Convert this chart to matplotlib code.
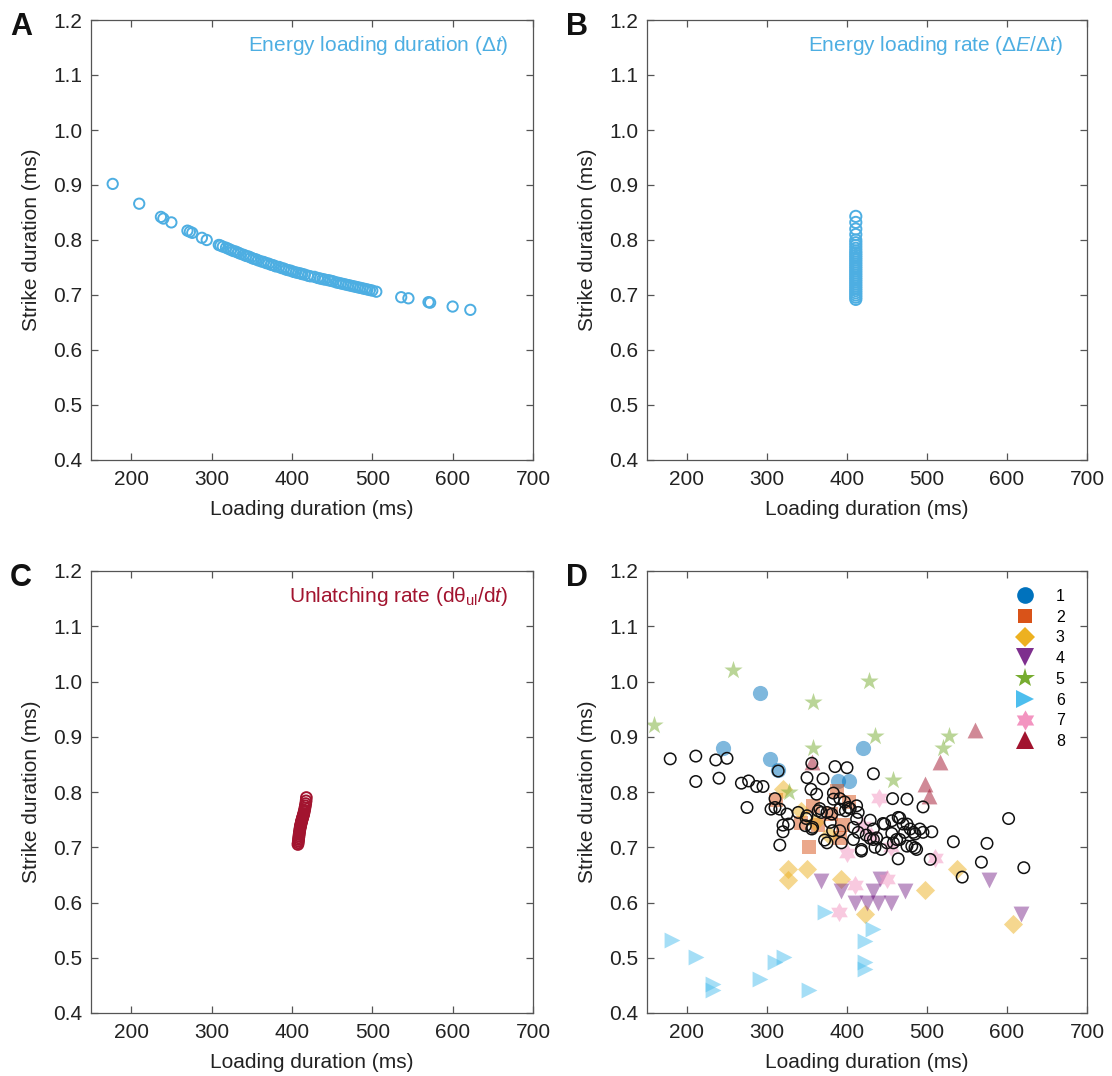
import numpy as np
import matplotlib
matplotlib.use("Agg")
import matplotlib.pyplot as plt

plt.rcParams['font.family'] = ['Liberation Sans', 'DejaVu Sans']
plt.rcParams['mathtext.fontset'] = 'custom'
plt.rcParams['mathtext.rm'] = 'Liberation Sans'
plt.rcParams['mathtext.it'] = 'Liberation Sans:italic'
plt.rcParams['mathtext.bf'] = 'Liberation Sans:bold'

# A: model strike duration vs loading duration, varying loading duration
a_load = [177, 210, 237, 240, 250, 270, 273, 276, 288, 294, 309, 311, 314, 318, 321,
          324, 327, 330, 333, 336, 340, 343, 346, 349, 352, 355, 358, 362, 365, 368,
          371, 374, 377, 380, 384, 387, 390, 393, 396, 399, 402, 405, 408, 411, 413,
          416, 420, 423, 428, 432, 435, 438, 441, 445, 448, 451, 455, 458, 461, 464,
          467, 470, 473, 476, 479, 482, 485, 488, 491, 494, 497, 500, 505, 536, 545,
          570, 572, 600, 622]
a_strike = [0.902, 0.866, 0.842, 0.839, 0.832, 0.817, 0.815, 0.813, 0.804, 0.800, 0.791,
            0.790, 0.788, 0.786, 0.784, 0.782, 0.780, 0.779, 0.777, 0.775, 0.773, 0.771,
            0.770, 0.768, 0.766, 0.765, 0.763, 0.761, 0.760, 0.758, 0.757, 0.755, 0.754,
            0.752, 0.751, 0.749, 0.748, 0.746, 0.745, 0.744, 0.742, 0.741, 0.740, 0.739,
            0.738, 0.737, 0.735, 0.734, 0.733, 0.731, 0.730, 0.729, 0.728, 0.727, 0.726,
            0.725, 0.723, 0.722, 0.721, 0.720, 0.719, 0.718, 0.717, 0.716, 0.715, 0.714,
            0.713, 0.712, 0.711, 0.710, 0.709, 0.708, 0.706, 0.696, 0.694, 0.687, 0.686,
            0.679, 0.673]

# B: loading rate varied, loading duration fixed
b_strike = [0.843, 0.832, 0.820, 0.810, 0.800, 0.795, 0.790, 0.785, 0.780, 0.776, 0.772,
            0.768, 0.764, 0.760, 0.756, 0.752, 0.748, 0.744, 0.740, 0.736, 0.732, 0.728,
            0.724, 0.720, 0.716, 0.712, 0.708, 0.704, 0.700, 0.696, 0.692]
b_load = [411] * len(b_strike)

# C: unlatching rate varied
c_load = [407.5, 407.8, 408.0, 408.3, 408.5, 408.8, 409.0, 409.3, 409.6, 409.9, 410.2,
          410.5, 410.8, 411.1, 411.4, 411.7, 412.0, 412.4, 412.8, 413.2, 413.6, 414.0,
          414.4, 414.8, 415.2, 415.7, 416.2, 416.7, 417.2, 417.7, 418.0]
c_strike = [0.705, 0.708, 0.711, 0.714, 0.717, 0.720, 0.723, 0.726, 0.729, 0.732, 0.735,
            0.737, 0.739, 0.741, 0.743, 0.745, 0.747, 0.749, 0.751, 0.753, 0.755, 0.757,
            0.759, 0.761, 0.764, 0.767, 0.771, 0.775, 0.779, 0.784, 0.790]

# D: model runs (open circles)
d_load = [179, 211, 236, 250, 211, 240, 268, 277, 287, 295, 314, 275, 350, 370, 355, 362,
          385, 400, 433, 356, 383, 310, 383, 391, 457, 475, 495, 602,
          305, 310, 316, 325, 320, 320, 316, 327, 339, 350, 356, 348, 357, 364, 368, 375,
          379, 381, 375, 391, 393, 391, 398, 402, 412, 404, 408, 414, 408, 418, 412, 414,
          429, 433, 429, 435, 443, 433, 437, 445, 456, 464, 466, 475, 479, 485, 483, 495,
          506, 491, 472, 456, 462, 475, 487, 485, 458, 481, 464, 504, 533, 575, 568, 544,
          621, 450, 466, 382, 366, 418, 447, 470, 349, 372, 397, 424]
d_strike = [0.860, 0.865, 0.858, 0.861, 0.819, 0.825, 0.816, 0.820, 0.810, 0.810, 0.838,
            0.772, 0.826, 0.824, 0.805, 0.796, 0.846, 0.844, 0.833, 0.852, 0.798, 0.788,
            0.787, 0.788, 0.788, 0.787, 0.773, 0.752,
            0.769, 0.772, 0.769, 0.760, 0.740, 0.728, 0.704, 0.742, 0.763, 0.757, 0.733,
            0.739, 0.736, 0.766, 0.763, 0.763, 0.745, 0.760, 0.708, 0.730, 0.708, 0.769,
            0.766, 0.772, 0.775, 0.770, 0.736, 0.727, 0.714, 0.693, 0.751, 0.763, 0.749,
            0.714, 0.716, 0.700, 0.696, 0.733, 0.717, 0.743, 0.748, 0.754, 0.753, 0.742,
            0.733, 0.724, 0.727, 0.727, 0.728, 0.733, 0.727, 0.725, 0.714, 0.702, 0.696,
            0.699, 0.708, 0.702, 0.679, 0.678, 0.710, 0.707, 0.673, 0.646, 0.663, 0.708,
            0.714, 0.730, 0.770, 0.696, 0.742, 0.742, 0.752, 0.713, 0.782, 0.722]

# D: measured strikes per individual
ind_load = {
    1: [245, 291, 304, 314, 389, 402, 420],
    2: [311, 343, 352, 358, 364, 387, 391, 395, 403, 380],
    3: [326, 326, 350, 392, 497, 537, 422, 607, 320, 343, 360, 378],
    4: [367, 393, 410, 425, 433, 439, 441, 455, 472, 577, 617],
    5: [159, 258, 357, 428, 357, 435, 458, 520, 527, 328],
    6: [181, 211, 232, 232, 291, 310, 321, 352, 372, 433, 422, 422, 422],
    7: [400, 420, 440, 410, 450, 390, 510, 455, 430],
    8: [560, 516, 498, 503, 356],
}
ind_strike = {
    1: [0.88, 0.98, 0.86, 0.84, 0.82, 0.82, 0.88],
    2: [0.785, 0.743, 0.701, 0.775, 0.740, 0.802, 0.717, 0.740, 0.781, 0.760],
    3: [0.661, 0.640, 0.661, 0.642, 0.623, 0.661, 0.580, 0.561, 0.805, 0.765, 0.745, 0.722],
    4: [0.639, 0.621, 0.600, 0.599, 0.621, 0.600, 0.642, 0.600, 0.621, 0.640, 0.580],
    5: [0.921, 1.021, 0.962, 1.001, 0.880, 0.901, 0.822, 0.880, 0.901, 0.800],
    6: [0.532, 0.502, 0.453, 0.442, 0.461, 0.492, 0.502, 0.442, 0.582, 0.552, 0.531,
        0.493, 0.479],
    7: [0.690, 0.738, 0.790, 0.631, 0.642, 0.582, 0.681, 0.700, 0.720],
    8: [0.912, 0.854, 0.814, 0.793, 0.854],
}

# six-pointed star (hexagram) marker outline
ang = np.pi / 2 + np.arange(12) * np.pi / 6
rad = np.where(np.arange(12) % 2 == 0, 1.0, 1 / np.sqrt(3))
hexagram = np.column_stack([rad * np.cos(ang), rad * np.sin(ang)])

ind_color = {1: '#0072BD', 2: '#D95319', 3: '#EDB120', 4: '#7E2F8E',
             5: '#77AC30', 6: '#4DBEEE', 7: '#F394C0', 8: '#A2142F'}
ind_marker = {1: 'o', 2: 's', 3: 'D', 4: 'v', 5: '*', 6: '>', 7: hexagram, 8: '^'}
ind_size = {1: 120, 2: 95, 3: 95, 4: 130, 5: 190, 6: 130, 7: 190, 8: 130}
leg_size = {1: 12, 2: 10, 3: 10, 4: 12.5, 5: 15, 6: 12.5, 7: 14.5, 8: 12.5}

xticks = [200, 300, 400, 500, 600, 700]
yticks = [0.4, 0.5, 0.6, 0.7, 0.8, 0.9, 1.0, 1.1, 1.2]
blue = '#4DAEE2'
red = '#A2142F'
axis_grey = '#555555'
text_col = '#222222'
fs = 15

fig = plt.figure(figsize=(11.12, 10.76), dpi=100)
W, H = 1112, 1076


def make_axes(left, top, right, bottom):
    ax = fig.add_axes([left / W, 1 - bottom / H, (right - left) / W, (bottom - top) / H])
    ax.set_xlim(150, 700)
    ax.set_ylim(0.4, 1.2)
    ax.set_xticks(xticks)
    ax.set_yticks(yticks)
    ax.set_yticklabels([f'{v:.1f}' for v in yticks])
    ax.tick_params(direction='in', top=True, right=True, length=5, width=0.9,
                   labelsize=fs, colors=axis_grey, labelcolor=text_col)
    ax.tick_params(axis='x', pad=7)
    ax.tick_params(axis='y', pad=6)
    for s in ax.spines.values():
        s.set_color(axis_grey)
        s.set_linewidth(0.9)
    ax.set_xlabel('Loading duration (ms)', fontsize=fs, color=text_col, labelpad=8)
    ax.set_ylabel('Strike duration (ms)', fontsize=fs, color=text_col, labelpad=9)
    return ax


axA = make_axes(91, 20, 533, 460)
axB = make_axes(647, 20, 1087, 460)
axC = make_axes(91, 571, 533, 1013)
axD = make_axes(647, 571, 1087, 1013)

axA.scatter(a_load, a_strike, s=55, facecolors='none', edgecolors=blue, linewidths=1.4)
axA.text(0.945, 0.943, r'Energy loading duration ($\Delta\mathit{t}$)', transform=axA.transAxes,
         ha='right', va='center', fontsize=fs, color=blue)

axB.scatter(b_load, b_strike, s=65, facecolors='none', edgecolors=blue, linewidths=1.4)
axB.text(0.945, 0.943, r'Energy loading rate ($\Delta\mathit{E}/\Delta\mathit{t}$)',
         transform=axB.transAxes, ha='right', va='center', fontsize=fs, color=blue)

axC.scatter(c_load, c_strike, s=60, facecolors='none', edgecolors=red, linewidths=1.4)
axC.text(0.945, 0.943, r'Unlatching rate (dθ$_{\mathrm{ul}}$/d$\mathit{t}$)',
         transform=axC.transAxes, ha='right', va='center', fontsize=fs, color=red)

for k in ind_load:
    axD.scatter(ind_load[k], ind_strike[k], s=ind_size[k], marker=ind_marker[k],
                color=ind_color[k], alpha=0.5, linewidths=0, zorder=2)
axD.scatter(d_load, d_strike, s=68, facecolors='none', edgecolors='#111111',
            linewidths=1.1, zorder=3)

handles = [plt.Line2D([], [], linestyle='none', marker=ind_marker[k], color=ind_color[k],
                      markeredgewidth=0, markersize=leg_size[k])
           for k in ind_load]
axD.legend(handles, [str(k) for k in ind_load], loc='upper right', frameon=False,
           fontsize=11.5, handletextpad=0.9, labelspacing=0.36, borderaxespad=0.3,
           bbox_to_anchor=(0.975, 0.985))

for letter, x, y in [('A', 10, 27), ('B', 566, 27), ('C', 10, 578), ('D', 566, 578)]:
    fig.text(x / W, 1 - y / H, letter, fontsize=22, fontweight='bold', va='center',
             ha='left', color='#111111')

fig.savefig('out.png', dpi=100)
